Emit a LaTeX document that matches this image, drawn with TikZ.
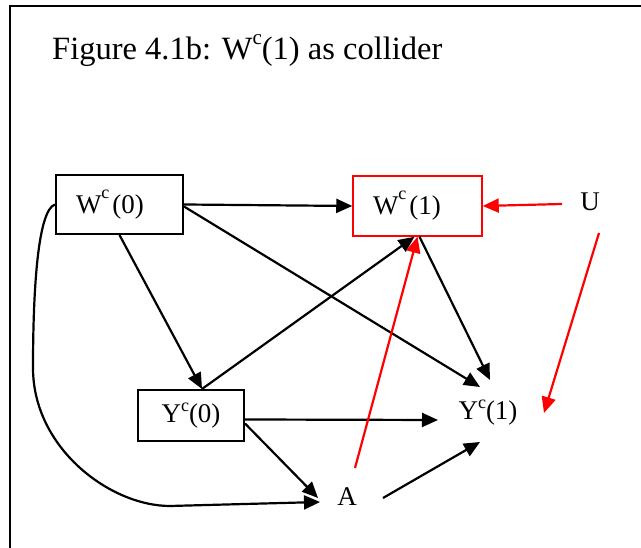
\documentclass[tikz,border=0pt]{standalone}
\usepackage{fontspec}
\setmainfont{Liberation Serif}
\usetikzlibrary{arrows.meta}
% raised small "c" for the counterfactual superscript: #1 = raise, #2 = size
\newcommand\cfsup[2]{\raisebox{#1}{\fontsize{#2}{#2}\selectfont c}}
\tikzset{
  lbl/.style={font=\fontsize{27}{32}\selectfont, inner sep=0pt},
  blackbox/.style={lbl, draw=black, line width=2pt},
  redbox/.style={lbl, draw=red, line width=1.5pt},
  link/.style={line width=2.2pt, -{Triangle[length=16pt,width=14pt]}},
  redlink/.style={link, draw=red, fill=red},
  frame/.style={line width=1.5pt},
}
\begin{document}
\begin{tikzpicture}[x=1pt,y=1pt]
\useasboundingbox (0,0) rectangle (641,548);
% open frame: top and left sides
\draw[frame] (10,-5) -- (10,542) -- (650,542);

% title
\node[anchor=base west, inner sep=0pt, font=\fontsize{32.5}{38}\selectfont] (title) at (52,488)
  {Figure 4.1b: W\cfsup{15pt}{21}(1) as collider};

% variables
\node[blackbox, minimum width=127pt, minimum height=59pt, text width=87pt, inner xsep=20pt, align=left]
  (W0) at (119.5,343.5) {W\cfsup{15pt}{18}\kern3pt(0)};
\node[redbox, minimum width=129pt, minimum height=60pt, text width=89pt, inner xsep=20pt, align=left]
  (W1) at (417.5,342) {W\cfsup{15pt}{18}\kern3pt(1)};
\node[blackbox, minimum width=106pt, minimum height=51pt] (Y0) at (191,132.5) {Y\cfsup{11pt}{18}(0)};
\node[lbl] (Y1) at (488,135) {Y\cfsup{11pt}{18}(1)};
\node[lbl] (A) at (347,51) {A};
\node[lbl] (U) at (590,346) {U};

% black arrows
\draw[link] (W0.east) -- (W1.west);
\draw[link] ([yshift=-2]W0.east) -- ([shift={(-8,26)}]Y1.center);
\draw[link] (W0.south) -- ([xshift=11]Y0.north);
\draw[link] ([xshift=11]Y0.north) -- ([xshift=-3]W1.south);
\draw[link] ([xshift=2]W1.south) -- ([shift={(2,33)}]Y1.center);
\draw[link] ([yshift=-4]Y0.east) -- ([shift={(-50,-7)}]Y1.center);
\draw[link] ([yshift=-8]Y0.east) -- ([shift={(-29,-1)}]A.center);
\draw[link] ([shift={(36,-1)}]A.center) -- ([shift={(-8,-29)}]Y1.center);
\draw[link] (W0.west) .. controls (38,338) and (33,260) .. (33,180)
  .. controls (33,100) and (110,42) .. (170,42) -- ([shift={(-27,-5)}]A.center);

% red arrows
\draw[redlink] ([shift={(-28,-2)}]U.center) -- (W1.east);
\draw[redlink] ([shift={(8,29)}]A.center) -- (W1.south);
\draw[redlink] ([shift={(9,-31)}]U.center) -- ([shift={(56,0)}]Y1.center);
\end{tikzpicture}
\end{document}
